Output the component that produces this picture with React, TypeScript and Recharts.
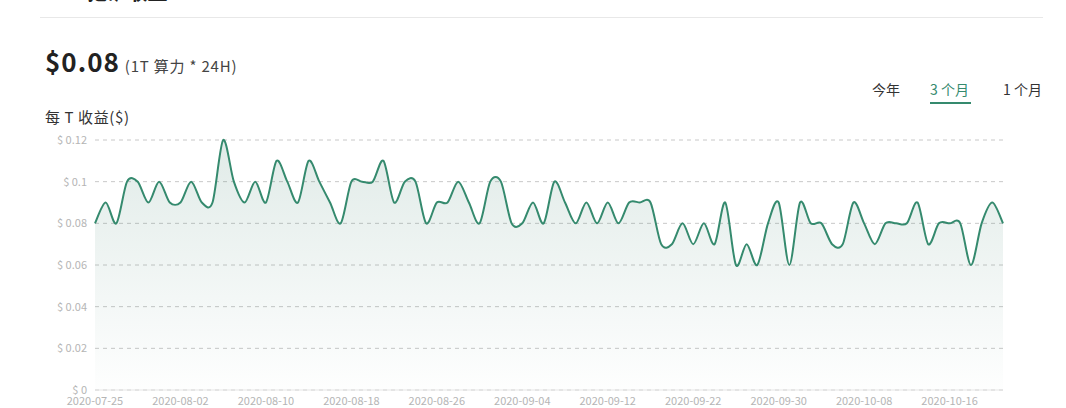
import * as React from 'react';
import {AreaChart, Area, XAxis, YAxis, CartesianGrid} from 'recharts';

const dates = [
  '2020-07-25', '2020-07-26', '2020-07-27', '2020-07-28', '2020-07-29', '2020-07-30', '2020-07-31', '2020-08-01',
  '2020-08-02', '2020-08-03', '2020-08-04', '2020-08-05', '2020-08-06', '2020-08-07', '2020-08-08', '2020-08-09',
  '2020-08-10', '2020-08-11', '2020-08-12', '2020-08-13', '2020-08-14', '2020-08-15', '2020-08-16', '2020-08-17',
  '2020-08-18', '2020-08-19', '2020-08-20', '2020-08-21', '2020-08-22', '2020-08-23', '2020-08-24', '2020-08-25',
  '2020-08-26', '2020-08-27', '2020-08-28', '2020-08-29', '2020-08-30', '2020-08-31', '2020-09-02', '2020-09-03',
  '2020-09-04', '2020-09-05', '2020-09-06', '2020-09-07', '2020-09-08', '2020-09-09', '2020-09-10', '2020-09-11',
  '2020-09-12', '2020-09-13', '2020-09-14', '2020-09-15', '2020-09-16', '2020-09-19', '2020-09-20', '2020-09-21',
  '2020-09-22', '2020-09-23', '2020-09-24', '2020-09-25', '2020-09-26', '2020-09-27', '2020-09-28', '2020-09-29',
  '2020-09-30', '2020-10-01', '2020-10-02', '2020-10-03', '2020-10-04', '2020-10-05', '2020-10-06', '2020-10-07',
  '2020-10-08', '2020-10-09', '2020-10-10', '2020-10-11', '2020-10-12', '2020-10-13', '2020-10-14', '2020-10-15',
  '2020-10-16', '2020-10-17', '2020-10-18', '2020-10-19', '2020-10-20', '2020-10-21',
];

const profitPerT = [
  0.08, 0.09, 0.08, 0.1, 0.1, 0.09, 0.1, 0.09, 0.09, 0.1, 0.09, 0.09, 0.12, 0.1, 0.09, 0.1,
  0.09, 0.11, 0.1, 0.09, 0.11, 0.1, 0.09, 0.08, 0.1, 0.1, 0.1, 0.11, 0.09, 0.1, 0.1, 0.08,
  0.09, 0.09, 0.1, 0.09, 0.08, 0.1, 0.1, 0.08, 0.08, 0.09, 0.08, 0.1, 0.09, 0.08, 0.09, 0.08,
  0.09, 0.08, 0.09, 0.09, 0.09, 0.07, 0.07, 0.08, 0.07, 0.08, 0.07, 0.09, 0.06, 0.07, 0.06, 0.08,
  0.09, 0.06, 0.09, 0.08, 0.08, 0.07, 0.07, 0.09, 0.08, 0.07, 0.08, 0.08, 0.08, 0.09, 0.07, 0.08,
  0.08, 0.08, 0.06, 0.08, 0.09, 0.08,
];

const yTicks = [0, 0.02, 0.04, 0.06, 0.08, 0.1, 0.12];
const tabs = ['今年', '3 个月', '1 个月'];

const GREEN = '#358a6e';
const FONT = "'Noto Sans CJK SC', 'Noto Sans', sans-serif";

// cardinal-ish smoothing like the original (peaks not flattened like monotone)
const smoothCurve = (ctx: any) => {
  const k = 0.15;
  let pts: number[][] = [];
  let line = NaN;
  return {
    areaStart() { line = 0; },
    areaEnd() { line = NaN; },
    lineStart() { pts = []; },
    lineEnd() {
      const n = pts.length;
      if (n > 0) {
        if (line) ctx.lineTo(pts[0][0], pts[0][1]);
        else ctx.moveTo(pts[0][0], pts[0][1]);
        for (let i = 0; i < n - 1; i++) {
          const p0 = pts[Math.max(i - 1, 0)];
          const p1 = pts[i];
          const p2 = pts[i + 1];
          const p3 = pts[Math.min(i + 2, n - 1)];
          ctx.bezierCurveTo(
            p1[0] + k * (p2[0] - p0[0]), p1[1] + k * (p2[1] - p0[1]),
            p2[0] - k * (p3[0] - p1[0]), p2[1] - k * (p3[1] - p1[1]),
            p2[0], p2[1]
          );
        }
      }
      if (line || (line !== 0 && n === 1)) ctx.closePath();
      line = 1 - line;
    },
    point(x: number, y: number) { pts.push([+x, +y]); },
  };
};

export default function App() {
  const data = dates.map((d, i) => ({date: d, value: profitPerT[i]}));

  return (
    <div style={{position: 'absolute', left: 0, top: 0, width: 1066, height: 408, overflow: 'hidden', background: '#fff', fontFamily: FONT}}>
      <div style={{position: 'absolute', left: 45, top: -19, fontSize: 20, fontWeight: 700, color: '#222', lineHeight: '22px'}}>BTC 挖矿收益</div>
      <div style={{position: 'absolute', left: 40, top: 17, width: 1003, height: 1, background: '#e8e8e8'}}/>

      <div style={{position: 'absolute', left: 45, top: 42, whiteSpace: 'nowrap', color: '#222'}}>
        <span style={{fontSize: 26, fontWeight: 700, letterSpacing: 1}}>$0.08</span>
        <span style={{fontSize: 15, color: '#444', marginLeft: 5, letterSpacing: 0.8}}>(1T 算力 * 24H)</span>
      </div>

      {tabs.map((t, i) => {
        const left = [872, 930, 1003][i];
        const active = i === 1;
        return (
          <div key={t} style={{position: 'absolute', left, top: 80, fontSize: 14, lineHeight: '19px', color: active ? GREEN : '#333', whiteSpace: 'nowrap'}}>
            {t}
            {active && <div style={{height: 2, background: GREEN, marginTop: 3, marginRight: -2}}/>}
          </div>
        );
      })}

      <div style={{position: 'absolute', left: 45, top: 106, fontSize: 15, letterSpacing: 0.6, color: '#333'}}>每 T 收益($)</div>

      <div style={{position: 'absolute', left: 0, top: 0}}>
        <AreaChart width={1066} height={408} data={data} margin={{top: 140, right: 63, left: 0, bottom: 0}}>
          <defs>
            <linearGradient id="fillGrad" x1="0" y1="0" x2="0" y2="1">
              <stop offset="0%" stopColor="#2d7560" stopOpacity={0.24}/>
              <stop offset="100%" stopColor="#2d7560" stopOpacity={0.01}/>
            </linearGradient>
          </defs>
          <CartesianGrid vertical={false} stroke="#c8c8c8" strokeDasharray="4 4"/>
          <XAxis
            dataKey="date"
            interval={7}
            height={18}
            tickLine={false}
            tickMargin={1}
            axisLine={{stroke: '#e6e6e6'}}
            tick={{fill: '#b5b5b5', fontSize: 11, fontFamily: FONT}}
          />
          <YAxis
            width={95}
            domain={[0, 0.12]}
            ticks={yTicks}
            axisLine={false}
            tickLine={false}
            tick={{fill: '#b5b5b5', fontSize: 11, fontFamily: FONT}}
            tickFormatter={(v: number) => '$ ' + v}
          />
          <Area
            type={smoothCurve as any}
            dataKey="value"
            stroke={GREEN}
            strokeWidth={2}
            fill="url(#fillGrad)"
            dot={false}
            activeDot={false}
            isAnimationActive={false}
          />
        </AreaChart>
      </div>
    </div>
  );
}
